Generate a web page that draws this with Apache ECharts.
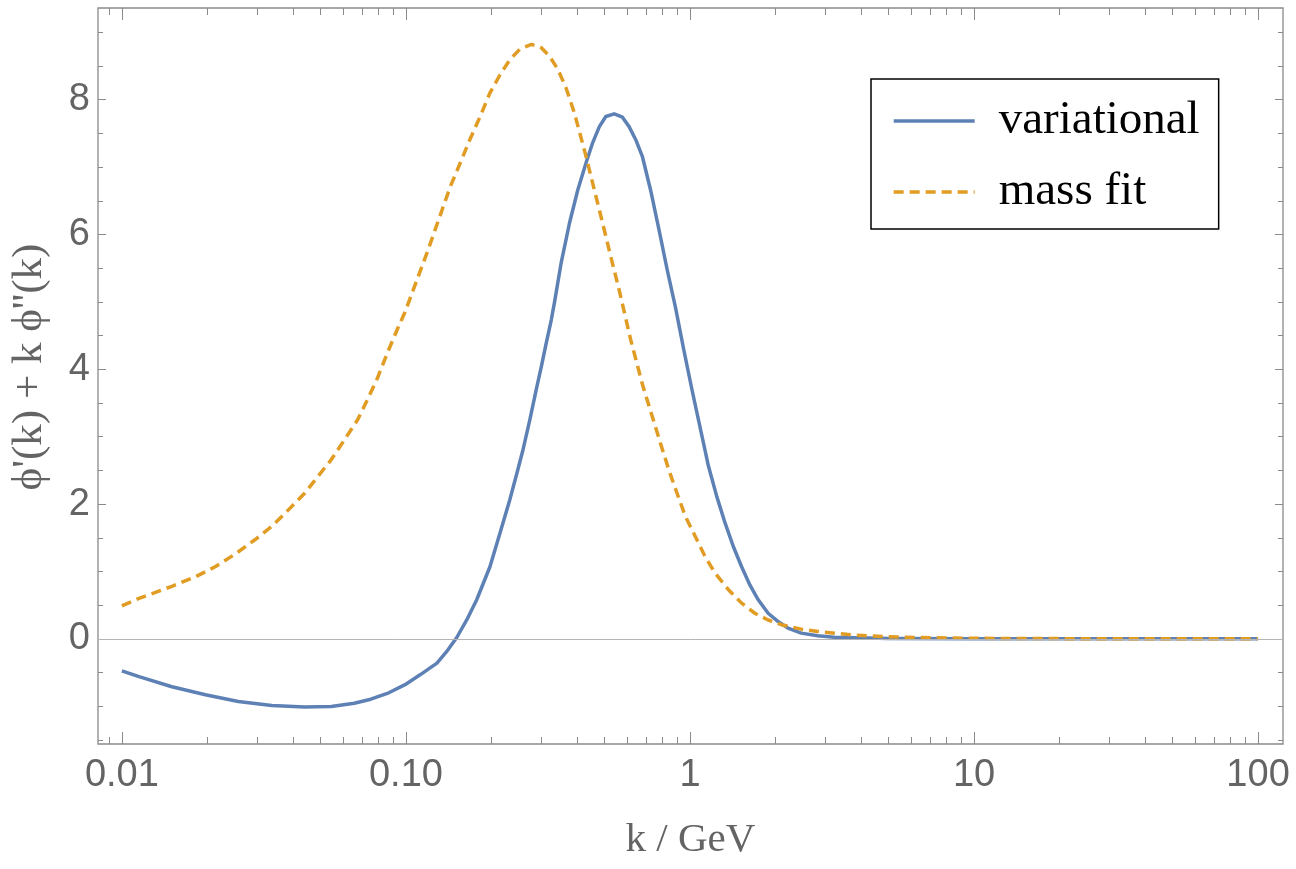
<!DOCTYPE html>
<html>
<head>
<meta charset="utf-8">
<script src="https://cdn.jsdelivr.net/npm/echarts@6/dist/echarts.min.js"></script>
<style>
  html, body { margin: 0; padding: 0; background: #fff; }
  #chart { width: 1296px; height: 869px; }
</style>
</head>
<body>
<div id="chart"></div>
<script>
// variational curve (k in GeV)
const kVar = [0.01, 0.01149, 0.015, 0.01968, 0.0257, 0.0337, 0.044, 0.0546, 0.0658, 0.0752, 0.086, 0.0993, 0.1125, 0.1286, 0.139, 0.151,
  0.1637, 0.1775, 0.1976, 0.2144, 0.232, 0.2449, 0.2585, 0.273, 0.2877, 0.2997, 0.312, 0.3248, 0.3337, 0.352, 0.3766, 0.4027, 0.4305, 0.4543,
  0.4797, 0.5057, 0.541, 0.5784, 0.6104, 0.6437, 0.6796, 0.7266, 0.778, 0.831, 0.888, 0.951, 1.016, 1.162, 1.243, 1.329, 1.421, 1.52,
  1.625, 1.739, 1.884, 2.04, 2.213, 2.464, 2.818, 3.22, 5, 10, 100];
const yVar = [-0.475, -0.56, -0.71, -0.83, -0.93, -0.99, -1.01, -1.005, -0.955, -0.895, -0.81, -0.68, -0.53, -0.36, -0.19, 0.02,
  0.28, 0.58, 1.07, 1.57, 2.06, 2.43, 2.81, 3.25, 3.70, 4.04, 4.39, 4.73, 5.00, 5.58, 6.17, 6.66, 7.06, 7.36,
  7.60, 7.75, 7.79, 7.74, 7.60, 7.41, 7.16, 6.66, 6.07, 5.48, 4.93, 4.29, 3.70, 2.56, 2.11, 1.72, 1.37, 1.07,
  0.80, 0.58, 0.38, 0.26, 0.16, 0.085, 0.045, 0.025, 0.005, 0, 0];

// mass fit curve
const kFit = [0.01, 0.01149, 0.015, 0.01815, 0.0213, 0.0251, 0.0294, 0.0337, 0.0385, 0.044, 0.049, 0.0546, 0.0607, 0.0676, 0.0732, 0.0794,
  0.086, 0.0932, 0.0993, 0.1187, 0.1304, 0.1433, 0.1553, 0.168, 0.1825, 0.1976, 0.2144, 0.232, 0.2518, 0.2767, 0.2997, 0.3208, 0.3428,
  0.3665, 0.392, 0.4305, 0.4606, 0.4924, 0.5264, 0.563, 0.6183, 0.6796, 0.7365, 0.7875, 0.842, 0.9005, 0.963, 1.044, 1.131, 1.226,
  1.366, 1.52, 1.692, 1.884, 2.097, 2.464, 2.818, 3.685, 4.215, 5.51, 10, 30, 100];
const yFit = [0.49, 0.60, 0.78, 0.92, 1.07, 1.26, 1.47, 1.67, 1.91, 2.16, 2.41, 2.66, 2.95, 3.25, 3.55, 3.87,
  4.24, 4.59, 4.85, 5.73, 6.22, 6.71, 7.06, 7.41, 7.75, 8.10, 8.37, 8.59, 8.75, 8.82, 8.77, 8.64, 8.45,
  8.17, 7.80, 7.16, 6.66, 6.17, 5.67, 5.18, 4.44, 3.78, 3.30, 2.90, 2.51, 2.16, 1.82, 1.52, 1.22, 0.975,
  0.73, 0.53, 0.38, 0.28, 0.21, 0.144, 0.11, 0.06, 0.045, 0.025, 0.008, 0.001, 0];

const seriesNames = ['variational', 'mass fit'];

// axis ticks
const xMajorTicks = [0.01, 0.1, 1, 10, 100];
const xTickLabels = ['0.01', '0.10', '1', '10', '100'];
const yMajorTicks = [0, 2, 4, 6, 8];
const yTickLabels = ['0', '2', '4', '6', '8'];

const xMin = 0.00824, xMax = 122.4;
const yMin = -1.56, yMax = 9.36;

const xMinorTicks = [];
[0.001, 0.01, 0.1, 1, 10].forEach(d => {
  for (let m = 2; m <= 9; m++) {
    const v = m * d;
    if (v >= xMin && v <= xMax) xMinorTicks.push(v);
  }
});
const yMinorTicks = [];
for (let v = -1.5; v <= 9.01; v += 0.5) {
  if (Math.abs(v % 2) > 1e-6) yMinorTicks.push(+v.toFixed(1));
}

const frameGray = '#8a8a8a';
const labelGray = '#646464';
const blue = '#5E81B5';
const orange = '#E19C24';

function zip(xs, ys) { return xs.map((x, i) => [x, ys[i]]); }

function xAx(pos, ticks, len, labels) {
  return {
    type: 'log', logBase: 10, min: xMin, max: xMax, position: pos, gridIndex: 0,
    axisLine: { show: false, onZero: false },
    splitLine: { show: false }, minorTick: { show: false },
    axisTick: { show: true, inside: true, length: len, customValues: ticks, lineStyle: { color: frameGray, width: 1 } },
    axisLabel: labels ? {
      show: true, customValues: ticks, margin: 13,
      color: labelGray, fontFamily: 'Liberation Sans, Arial, sans-serif', fontSize: 38,
      formatter: v => {
        const i = xMajorTicks.findIndex(t => Math.abs(Math.log10(t) - Math.log10(v)) < 1e-6);
        return i >= 0 ? xTickLabels[i] : '';
      }
    } : { show: false }
  };
}
function yAx(pos, ticks, len, labels) {
  return {
    type: 'value', min: yMin, max: yMax, position: pos, gridIndex: 0,
    axisLine: { show: false, onZero: false },
    splitLine: { show: false },
    axisTick: { show: true, inside: true, length: len, customValues: ticks, lineStyle: { color: frameGray, width: 1 } },
    axisLabel: labels ? {
      show: true, customValues: ticks, margin: 8,
      color: labelGray, fontFamily: 'Liberation Sans, Arial, sans-serif', fontSize: 38,
      formatter: v => {
        const i = yMajorTicks.findIndex(t => Math.abs(t - v) < 1e-6);
        return i >= 0 ? yTickLabels[i] : '';
      }
    } : { show: false }
  };
}

const chart = echarts.init(document.getElementById('chart'));

const xAxes = [
  xAx('bottom', xMajorTicks, 12, true),
  xAx('bottom', xMinorTicks, 7, false),
  xAx('top', xMajorTicks, 12, false),
  xAx('top', xMinorTicks, 7, false)
];
xAxes[0].name = 'k / GeV';
xAxes[0].nameLocation = 'middle';
xAxes[0].nameGap = 76;
xAxes[0].nameTextStyle = { color: labelGray, fontFamily: 'Liberation Serif, Times New Roman, serif', fontSize: 41 };

const yAxes = [
  yAx('left', yMajorTicks, 8, true),
  yAx('left', yMinorTicks, 5, false),
  yAx('right', yMajorTicks, 8, false),
  yAx('right', yMinorTicks, 5, false)
];
yAxes[0].name = "\u03D5'(k) + k \u03D5''(k)";
yAxes[0].nameLocation = 'middle';
yAxes[0].nameGap = 47;
yAxes[0].nameRotate = 90;
yAxes[0].nameTextStyle = { color: labelGray, fontFamily: 'Liberation Serif, Times New Roman, serif', fontSize: 43, padding: [0, 0, 0, 18] };

const option = {
  animation: false,
  backgroundColor: '#fff',
  grid: {
    left: 92, right: 13, top: 8, bottom: 125,
    show: true, borderColor: frameGray, borderWidth: 1.3, backgroundColor: 'transparent'
  },
  xAxis: xAxes,
  yAxis: yAxes,
  legend: {
    data: seriesNames,
    orient: 'vertical',
    left: 871, top: 79,
    padding: [17, 19, 12, 21],
    itemGap: 21,
    itemWidth: 81, itemHeight: 20,
    itemStyle: { opacity: 0 },
    lineStyle: { width: 3.4 },
    backgroundColor: '#fff',
    borderColor: '#000', borderWidth: 1.5,
    textStyle: { color: '#000', fontFamily: 'Liberation Serif, Times New Roman, serif', fontSize: 47, lineHeight: 50, padding: [0, 0, 0, 19] }
  },
  series: [
    {
      name: seriesNames[0], type: 'line', xAxisIndex: 0, yAxisIndex: 0,
      data: zip(kVar, yVar), showSymbol: false, symbol: 'none',
      lineStyle: { color: blue, width: 3.5, join: 'round' }, itemStyle: { color: blue },
      markLine: {
        silent: true, symbol: 'none', label: { show: false },
        lineStyle: { color: '#b4b4b4', width: 1, type: 'solid' },
        data: [{ yAxis: 0 }]
      },
      z: 3
    },
    {
      name: seriesNames[1], type: 'line', xAxisIndex: 0, yAxisIndex: 0,
      data: zip(kFit, yFit), showSymbol: false, symbol: 'none',
      lineStyle: { color: orange, width: 3.5, type: [10, 6], join: 'round' }, itemStyle: { color: orange },
      z: 4
    }
  ]
};
chart.setOption(option);
</script>
</body>
</html>
